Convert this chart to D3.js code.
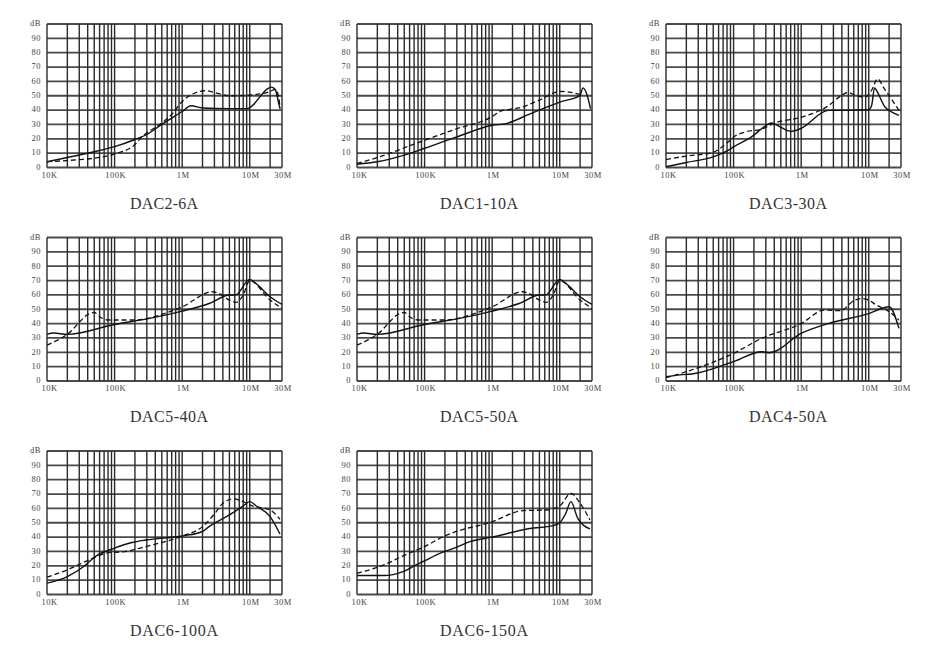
<!DOCTYPE html>
<html>
<head>
<meta charset="utf-8">
<script src="https://cdn.jsdelivr.net/npm/d3@7/dist/d3.min.js"></script>
<style>
  body { margin: 0; background: #fff; }
</style>
</head>
<body>
<div id="chart"></div>
<script>
var width = 929,
    height = 656;

// panel titles, in reading order
var titles = ['DAC2-6A', 'DAC1-10A', 'DAC3-30A',
              'DAC5-40A', 'DAC5-50A', 'DAC4-50A',
              'DAC6-100A', 'DAC6-150A'];

// axis ticks
var xTickValues = [1e4, 1e5, 1e6, 1e7, 3e7];
var xTickLabels = ['10K', '100K', '1M', '10M', '30M'];
var yTickValues = [0, 10, 20, 30, 40, 50, 60, 70, 80, 90, 100];
var yTickLabels = ['0', '10', '20', '30', '40', '50', '60', '70', '80', '90', 'dB'];

// [frequency Hz, dB]
var dac2_6A_solid = [[1e4,4],[2e4,7],[5e4,11],[1e5,14.5],[2e5,19.5],[3e5,23],[5e5,30],[1e6,39],
    [1.35e6,43],[2e6,41.5],[5e6,41],[9e6,41],[2.1e7,56],[2.4e7,54],[2.7e7,44],[2.8e7,41]];
var dac2_6A_dashed = [[1e4,4],[3e4,5.5],[5e4,6.5],[1e5,9.5],[2e5,16],[2.5e5,21],[5e5,31],[7e5,37],
    [1e6,46],[1.4e6,51],[2.2e6,53.5],[3.5e6,51.5],[5e6,50],[1e7,50.5],[2e7,53],[2.4e7,54.5],[2.7e7,48],[2.8e7,41]];

var dac1_10A_solid = [[1e4,2.3],[2e4,4],[5e4,8.6],[1e5,13.4],[3e5,21.3],[1e6,29.4],[1.6e6,30.6],
    [3.5e6,37],[1e7,45.6],[2e7,50.2],[2.2e7,55.5],[2.5e7,51.4],[2.85e7,41]];
var dac1_10A_dashed = [[1e4,2.8],[2e4,7],[1e5,19],[3e5,27],[1e6,35.5],[1.3e6,39],[1.8e6,40.5],
    [2.5e6,41.5],[5e6,47],[1e7,53],[1.4e7,52.5],[2e7,50.7]];

var dac3_30A_solid = [[1e4,0.5],[2e4,3.5],[5e4,7.4],[8.3e4,12],[1e5,14.4],[1.8e5,21],[3.2e5,30],
    [3.6e5,31],[4.7e5,28.7],[7e5,25.2],[9.7e5,27],[2.5e6,39.8],[6e6,40],[1e7,40.3],[1.1e7,43],
    [1.22e7,55.5],[1.3e7,53.7],[1.75e7,42],[2.2e7,38.6],[2.8e7,36.3]];
var dac3_30A_dashed = [[1e4,5.5],[2e4,8],[4.7e4,10.2],[8.3e4,17.8],[1e5,21.3],[1.5e5,24.8],
    [2.7e5,27],[3.8e5,30.5],[1e6,35],[2.45e6,42.6],[3.9e6,50],[4.9e6,52.3],[6.1e6,50.7],
    [8.7e6,49],[1.1e7,53.7],[1.35e7,61.8],[1.67e7,55.5],[2.8e7,39.8]];

var dac5_40A_solid = [[1e4,32.5],[1.25e4,33.4],[2e4,32.5],[1e5,39.4],[3.3e5,43.6],[1e6,48.7],
    [2.5e6,54],[5e6,59.9],[6.2e6,60],[1e7,70.8],[1.23e7,68],[2e7,58.7],[3e7,53.4]];
var dac5_40A_dashed = [[1e4,25],[2e4,32.5],[4.3e4,47],[5e4,47.8],[6e4,44.8],[8.3e4,42.5],
    [1.85e5,42.5],[1e6,51.7],[2.8e6,62.2],[3.5e6,61],[5e6,56.4],[6.3e6,54.8],[8e6,59.9],
    [1e7,70],[2e7,56.4],[3e7,50.6]];

var dac5_50A_solid = [[1e4,32.5],[1.25e4,33.4],[2e4,32.5],[1e5,39.4],[3.3e5,43.6],[1e6,48.7],
    [2.5e6,54],[5e6,59.9],[6.2e6,60],[1e7,70.8],[1.23e7,68],[2e7,58.7],[3e7,53.4]];
var dac5_50A_dashed = [[1e4,25],[2e4,32.5],[4.3e4,47],[5e4,47.8],[6e4,44.8],[8.3e4,42.5],
    [1.85e5,42.5],[1e6,51.7],[2.8e6,62.2],[3.5e6,61],[5e6,56.4],[6.3e6,54.8],[8e6,59.9],
    [1e7,70],[2e7,56.4],[3e7,50.6]];

var dac4_50A_solid = [[1e4,3],[2e4,4.6],[2.4e4,4.9],[1e5,13.5],[2.6e5,20.4],[3.4e5,19.7],
    [1e6,33.2],[2.5e6,40],[1e7,46.9],[2e7,51.7],[2.8e7,36.7]];
var dac4_50A_dashed = [[1e4,2.3],[2e4,6.5],[1e5,19.3],[2.6e5,29.7],[1e6,40],[2.2e6,49.4],
    [3.8e6,49],[6.2e6,56.4],[8e6,57.5],[1e7,56.4],[1.25e7,53.4],[2e7,48.3],[2.8e7,42.5]];

var dac6_100A_solid = [[1e4,7.9],[2e4,12.5],[3.5e4,19.5],[5.2e4,26.5],[1e5,32.3],[1.8e5,36.2],
    [2.9e5,38],[1e6,40.8],[2e6,43.9],[2.5e6,47.3],[5e6,55.5],[8e6,61.7],[1e7,64.7],[1.25e7,61.7],
    [2e7,54.3],[2.8e7,42.2]];
var dac6_100A_dashed = [[1e4,12],[2e4,17.2],[4.8e4,25.3],[8.3e4,29.2],[1.3e5,29.7],[2.9e5,33.4],
    [1e6,40.8],[2e6,47.3],[3.2e6,57.8],[4e6,63.6],[5.7e6,66.6],[8e6,64.7],[1e7,62.4],[2e7,58.9],
    [2.8e7,52.4]];

var dac6_150A_solid = [[1e4,13.2],[2.5e4,13.2],[4.8e4,16],[7.5e4,20.6],[1e5,23.4],[1.5e5,27.6],
    [3e5,33],[4.8e5,37],[1e6,40],[3.6e6,46],[8e6,48],[1e7,50],[1.23e7,56.6],[1.46e7,64.7],
    [1.85e7,53],[2.8e7,45.7]];
var dac6_150A_dashed = [[1e4,14.8],[2.5e4,20.6],[4.8e4,26.9],[1e5,33.4],[1.9e5,40.4],[1e6,50.8],
    [2.9e6,58.5],[6.3e6,58.9],[1e7,61.7],[1.46e7,70.5],[2e7,63.6],[2.8e7,52]];

var solids = [dac2_6A_solid, dac1_10A_solid, dac3_30A_solid, dac5_40A_solid,
              dac5_50A_solid, dac4_50A_solid, dac6_100A_solid, dac6_150A_solid];
var dashes = [dac2_6A_dashed, dac1_10A_dashed, dac3_30A_dashed, dac5_40A_dashed,
              dac5_50A_dashed, dac4_50A_dashed, dac6_100A_dashed, dac6_150A_dashed];

// layout of the 3x3 grid
var colLeft = [47, 357, 666],
    rowTop = [24, 237.5, 451],
    pw = 235,
    ph = 143.5;

var svg = d3.select('#chart').append('svg')
    .attr('width', width)
    .attr('height', height)
    .style('font-family', '"Liberation Serif", "DejaVu Serif", serif');

var x = d3.scaleLog().domain([1e4, 3e7]).range([0, pw]);
var y = d3.scaleLinear().domain([0, 100]).range([ph, 0]);

// every log grid line: 1..9 per decade, then 20M and 30M
var gridX = [];
[1e4, 1e5, 1e6].forEach(function(dec) {
    for (var k = 1; k < 10; k++) gridX.push(dec * k);
});
gridX.push(1e7, 2e7, 3e7);

var line = d3.line()
    .x(function(d) { return x(d[0]); })
    .y(function(d) { return y(d[1]); })
    .curve(d3.curveMonotoneX);

titles.forEach(function(title, i) {
    var g = svg.append('g')
        .attr('transform', 'translate(' + colLeft[i % 3] + ',' + rowTop[Math.floor(i / 3)] + ')');

    g.selectAll('line.hgrid').data(yTickValues).enter()
      .append('line')
        .attr('class', 'hgrid')
        .attr('x1', 0).attr('x2', pw)
        .attr('y1', y).attr('y2', y)
        .attr('stroke', '#4a4a4a')
        .attr('stroke-width', 1.8);

    g.selectAll('line.vgrid').data(gridX).enter()
      .append('line')
        .attr('class', 'vgrid')
        .attr('x1', x).attr('x2', x)
        .attr('y1', 0).attr('y2', ph)
        .attr('stroke', '#2a2a2a')
        .attr('stroke-width', 1.4);

    // y tick labels
    g.selectAll('text.ylab').data(yTickValues).enter()
      .append('text')
        .attr('class', 'ylab')
        .attr('x', -6)
        .attr('y', function(d) { return y(d) - 0.5; })
        .attr('dy', '0.33em')
        .attr('text-anchor', 'end')
        .attr('font-size', 8.5)
        .attr('letter-spacing', 0.5)
        .attr('fill', '#444')
        .text(function(d, j) { return yTickLabels[j]; });

    // x tick labels
    g.selectAll('text.xlab').data(xTickValues).enter()
      .append('text')
        .attr('class', 'xlab')
        .attr('x', function(d, j) { return x(d) + (j === 0 ? 2.5 : 1); })
        .attr('y', ph + 10)
        .attr('text-anchor', 'middle')
        .attr('font-size', 8.5)
        .attr('letter-spacing', 0.5)
        .attr('fill', '#444')
        .text(function(d, j) { return xTickLabels[j]; });

    g.append('path')
        .datum(dashes[i])
        .attr('d', line)
        .attr('fill', 'none')
        .attr('stroke', '#111')
        .attr('stroke-width', 1.3)
        .attr('stroke-dasharray', '5,3');

    g.append('path')
        .datum(solids[i])
        .attr('d', line)
        .attr('fill', 'none')
        .attr('stroke', '#111')
        .attr('stroke-width', 1.4);

    g.append('text')
        .attr('x', 83)
        .attr('y', ph + 41)
        .attr('font-size', 16)
        .attr('fill', '#333')
        .attr('textLength', title.length * 10 - 2)
        .attr('lengthAdjust', 'spacing')
        .text(title);
});
</script>
</body>
</html>
